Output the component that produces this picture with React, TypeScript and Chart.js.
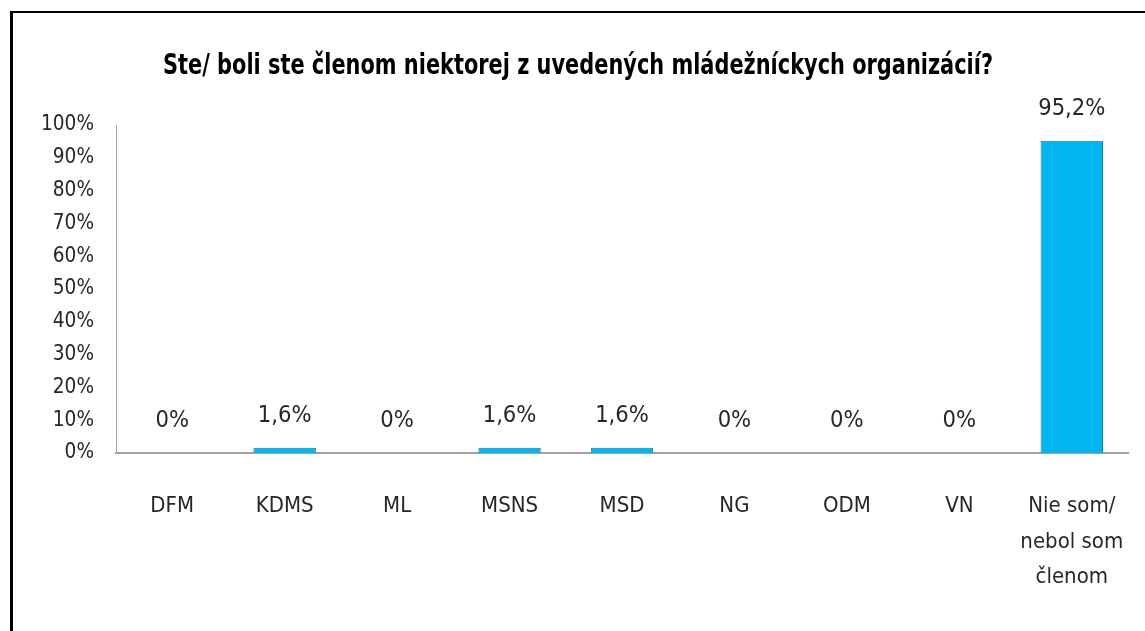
import React, { useEffect, useRef } from "react";
import { Chart, registerables } from "chart.js";

Chart.register(...registerables);

const categories: (string | string[])[] = [
  "DFM",
  "KDMS",
  "ML",
  "MSNS",
  "MSD",
  "NG",
  "ODM",
  "VN",
  ["Nie som/", "nebol som", "členom"],
];
const values: number[] = [0, 1.6, 0, 1.6, 1.6, 0, 0, 0, 95.2];
const valueLabels: string[] = ["0%", "1,6%", "0%", "1,6%", "1,6%", "0%", "0%", "0%", "95,2%"];
const yTicks: number[] = [0, 10, 20, 30, 40, 50, 60, 70, 80, 90, 100];
const titleText = "Ste/ boli ste členom niektorej z uvedených mládežníckych organizácií?";

const FONT = "'DejaVu Sans Condensed', 'DejaVu Sans', sans-serif";
const TEXT = "#262626";

const valueLabelPlugin = {
  id: "valueLabels",
  afterDatasetsDraw(chart: any) {
    const { ctx } = chart;
    const meta = chart.getDatasetMeta(0);
    ctx.save();
    ctx.font = `23.5px ${FONT}`;
    ctx.fillStyle = TEXT;
    ctx.textAlign = "center";
    ctx.textBaseline = "middle";
    meta.data.forEach((bar: any, i: number) => {
      ctx.fillText(valueLabels[i], bar.x, bar.y - 32);
    });
    ctx.restore();
  },
};

// Title drawn as real text, slightly condensed to mimic the narrow original face
const titlePlugin = {
  id: "condensedTitle",
  afterDraw(chart: any) {
    const { ctx } = chart;
    ctx.save();
    ctx.font = `bold 28px ${FONT}`;
    ctx.fillStyle = "#000";
    ctx.textAlign = "center";
    ctx.textBaseline = "alphabetic";
    const w = ctx.measureText(titleText).width;
    const sx = 830 / w;
    ctx.translate(578, 74);
    ctx.scale(sx, 1);
    ctx.fillText(titleText, 0, 0);
    ctx.restore();
  },
};

export default function App() {
  const ref = useRef<HTMLCanvasElement | null>(null);

  useEffect(() => {
    if (!ref.current) return;
    const chart = new Chart(ref.current, {
      type: "bar",
      data: {
        labels: categories,
        datasets: [
          {
            data: values,
            backgroundColor: (c: any) => {
              const area = c.chart.chartArea;
              const el = c.element;
              if (!area || !el || !el.width) return "#00B5F0";
              const x0 = el.x - el.width / 2;
              const x1 = el.x + el.width / 2;
              const g = c.chart.ctx.createLinearGradient(x0, 0, x1, 0);
              g.addColorStop(0, "#0A86B8");
              g.addColorStop(0.07, "#009FD8");
              g.addColorStop(0.12, "#00B6F2");
              g.addColorStop(0.5, "#00BBF6");
              g.addColorStop(0.88, "#00B6F2");
              g.addColorStop(0.93, "#009FD8");
              g.addColorStop(1, "#0A86B8");
              return g;
            },
            borderColor: "#1A7EA6",
            borderWidth: 1,
            categoryPercentage: 1,
            barPercentage: 0.555,
          },
        ],
      },
      options: {
        animation: false,
        responsive: true,
        maintainAspectRatio: false,
        layout: { padding: { left: 28, right: 17, top: 125, bottom: 0 } },
        plugins: {
          legend: { display: false },
          tooltip: { enabled: false },
          title: { display: false },
        },
        scales: {
          x: {
            grid: { display: false, drawTicks: false },
            border: { display: true, color: "#A0A0A0", width: 2 },
            ticks: {
              color: TEXT,
              font: { family: FONT, size: 22, lineHeight: 1.6 },
              padding: 36,
              maxRotation: 0,
              autoSkip: false,
            },
            afterFit: (s: any) => {
              s.height = 178;
              s.paddingLeft = 0;
              s.paddingRight = 0;
            },
          },
          y: {
            min: 0,
            max: 100,
            afterBuildTicks: (s: any) => {
              s.ticks = yTicks.map((v) => ({ value: v }));
            },
            grid: { display: false, drawTicks: false },
            border: { display: true, color: "#A8A8A8", width: 1 },
            ticks: {
              color: TEXT,
              font: { family: FONT, size: 20.6 },
              padding: 22,
              callback: (v: any) => `${v}%`,
            },
            afterFit: (s: any) => {
              s.width = 88;
              s.paddingTop = 0;
              s.paddingBottom = 0;
            },
          },
        },
      },
      plugins: [valueLabelPlugin, titlePlugin],
    });
    return () => chart.destroy();
  }, []);

  return (
    <div style={{ position: "fixed", left: 0, top: 0, width: 1145, height: 631, overflow: "hidden", background: "#fff" }}>
      <div
        style={{
          position: "absolute",
          left: 10,
          top: 11,
          width: 1200,
          height: 700,
          borderLeft: "3px solid #000",
          borderTop: "2px solid #000",
        }}
      />
      <div style={{ position: "absolute", left: 0, top: 0, width: 1145, height: 631 }}>
        <canvas ref={ref} />
      </div>
    </div>
  );
}
